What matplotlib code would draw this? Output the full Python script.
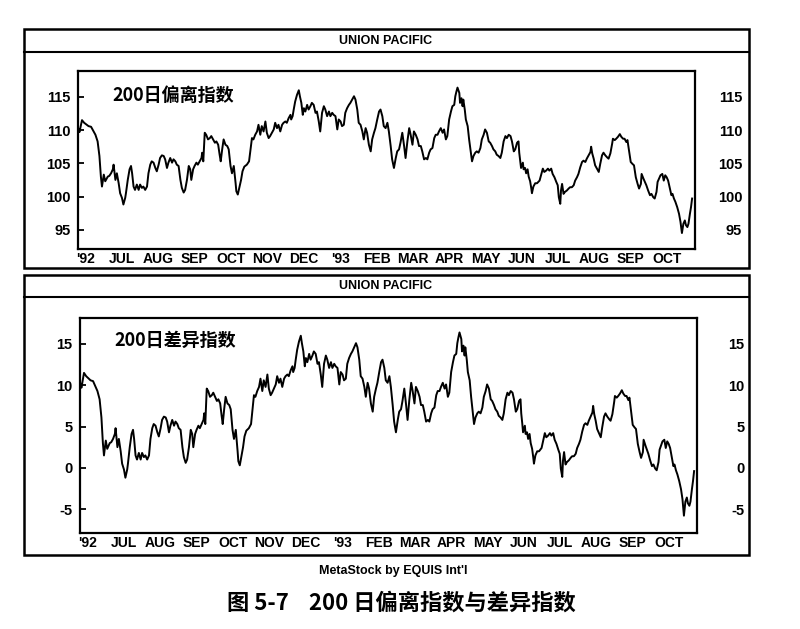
import matplotlib
matplotlib.use("Agg")
import matplotlib.pyplot as plt
from matplotlib.patches import Rectangle
from matplotlib.lines import Line2D

# --- data (x = months since June 1992) ---
month_labels = ["'92", "JUL", "AUG", "SEP", "OCT", "NOV", "DEC", "'93", "FEB",
                "MAR", "APR", "MAY", "JUN", "JUL", "AUG", "SEP", "OCT"]
month_ticks = list(range(17))

ratio_ticks = [95, 100, 105, 110, 115]
diff_ticks = [-5, 0, 5, 10, 15]

months = [
    -0.21, -0.18, -0.11, -0.05, 0.02, 0.07, 0.14, 0.20, 0.26, 0.32,
    0.37, 0.41, 0.44, 0.49, 0.53, 0.60, 0.64, 0.69, 0.74, 0.76,
    0.81, 0.85, 0.90, 0.94, 0.99, 1.03, 1.08, 1.10, 1.15, 1.20,
    1.24, 1.27, 1.31, 1.35, 1.40, 1.45, 1.49, 1.54, 1.58, 1.63,
    1.68, 1.72, 1.77, 1.81, 1.86, 1.91, 1.95, 2.00, 2.04, 2.09,
    2.14, 2.18, 2.23, 2.27, 2.32, 2.37, 2.41, 2.46, 2.50, 2.55,
    2.60, 2.64, 2.69, 2.73, 2.78, 2.83, 2.87, 2.90, 2.95, 2.99,
    3.04, 3.08, 3.13, 3.18, 3.20, 3.23, 3.27, 3.31, 3.36, 3.41,
    3.45, 3.50, 3.55, 3.59, 3.64, 3.68, 3.71, 3.75, 3.79, 3.84,
    3.89, 3.93, 3.98, 4.02, 4.07, 4.12, 4.14,
    4.18, 4.23, 4.27, 4.31, 4.36, 4.43, 4.49, 4.53, 4.57, 4.61,
    4.66, 4.71, 4.75, 4.80, 4.84, 4.89, 4.94, 4.98, 5.03, 5.07,
    5.12, 5.17, 5.21, 5.26, 5.30, 5.35, 5.40, 5.44, 5.49, 5.53,
    5.58, 5.63, 5.65, 5.69, 5.72, 5.76, 5.81, 5.86, 5.89, 5.93,
    5.97, 6.00, 6.04, 6.09, 6.13, 6.18, 6.22, 6.27, 6.32, 6.36,
    6.41, 6.45, 6.50, 6.55, 6.59, 6.64, 6.69, 6.73, 6.78, 6.82,
    6.87, 6.92, 6.96, 7.01, 7.05, 7.10, 7.14, 7.19, 7.24, 7.28,
    7.33, 7.38, 7.42, 7.47, 7.51, 7.56, 7.61, 7.65, 7.70, 7.74,
    7.79, 7.84, 7.88, 7.93, 7.97, 8.02, 8.07, 8.11, 8.16, 8.20,
    8.25, 8.30,
    8.34, 8.39, 8.43, 8.48, 8.53, 8.57, 8.62, 8.66, 8.71, 8.76,
    8.80, 8.85, 8.90, 8.94, 8.99, 9.03, 9.08, 9.13, 9.17, 9.22,
    9.26, 9.31, 9.36, 9.40, 9.45, 9.49, 9.54, 9.59, 9.63, 9.68,
    9.72, 9.77, 9.82, 9.86, 9.91, 9.95, 10.00, 10.05, 10.09, 10.14,
    10.17, 10.20, 10.23, 10.28, 10.30, 10.34, 10.37, 10.39, 10.43, 10.46,
    10.51, 10.55, 10.60, 10.63, 10.67, 10.72, 10.76, 10.81, 10.86, 10.90,
    10.95, 10.99, 11.04, 11.09, 11.13, 11.18, 11.22, 11.27, 11.31, 11.36,
    11.41, 11.45, 11.50, 11.55, 11.59, 11.64, 11.69, 11.73, 11.78, 11.82,
    11.87, 11.91, 11.93, 11.96, 11.98, 12.03, 12.05, 12.09, 12.12, 12.16,
    12.19, 12.23, 12.26, 12.28, 12.32, 12.37, 12.42,
    12.49, 12.53, 12.58, 12.62, 12.67, 12.72, 12.76, 12.81, 12.85, 12.90,
    12.95, 12.99, 13.02, 13.06, 13.08, 13.11, 13.15, 13.19, 13.24, 13.29,
    13.33, 13.38, 13.43, 13.47, 13.52, 13.56, 13.61, 13.66, 13.70, 13.75,
    13.79, 13.84, 13.89, 13.91, 13.94, 13.98, 14.02, 14.07, 14.12, 14.16,
    14.21, 14.25, 14.30, 14.35, 14.39, 14.44, 14.49, 14.51, 14.56, 14.60,
    14.65, 14.70, 14.74, 14.79, 14.83, 14.88, 14.91, 14.95, 15.00, 15.05,
    15.09, 15.14, 15.19, 15.23, 15.28, 15.30, 15.35, 15.39, 15.43, 15.48,
    15.53, 15.57, 15.62, 15.66, 15.71, 15.74, 15.78, 15.82, 15.87, 15.91,
    15.95, 15.99, 16.03, 16.08, 16.12, 16.15, 16.19, 16.23, 16.28, 16.33,
    16.37, 16.41, 16.45, 16.49, 16.52, 16.56, 16.59, 16.63, 16.66, 16.69,
]

# 200-day ratio index (price / 200-day MA * 100)
ratio_index = [
    110.2, 109.7, 111.5, 111.1, 110.8, 110.6, 110.5, 109.9, 109.3, 108.3,
    106.1, 103.0, 101.5, 103.3, 102.3, 103.0, 103.1, 103.5, 104.1, 104.8,
    102.5, 103.5, 102.0, 100.5, 99.8, 98.8, 99.8, 100.5, 102.5, 104.1,
    104.6, 103.5, 101.5, 101.0, 101.8, 101.0, 101.8, 101.3, 101.5, 101.0,
    101.5, 103.5, 104.8, 105.3, 105.1, 104.3, 103.8, 104.8, 105.8, 106.2,
    106.1, 105.6, 104.3, 105.1, 105.8, 105.1, 105.6, 105.3, 104.8, 104.6,
    102.5, 101.3, 100.6, 101.0, 102.5, 104.6, 104.1, 102.5, 104.1, 104.6,
    105.1, 104.8, 105.3, 105.8, 106.6, 105.3, 109.6, 109.3, 108.6, 108.8,
    109.1, 108.6, 108.1, 108.3, 107.8, 106.3, 105.3, 107.1, 108.6, 107.8,
    107.6, 107.1, 104.6, 103.5, 104.6, 102.0, 100.8,
    100.3, 101.5, 102.5, 103.8, 104.5, 104.8, 105.3, 107.1, 108.8, 108.6,
    109.3, 109.8, 110.8, 109.3, 110.6, 109.8, 111.3, 109.6, 108.8, 109.1,
    109.6, 110.1, 111.1, 110.3, 110.8, 109.8, 110.8, 111.1, 111.3, 111.1,
    111.8, 112.3, 111.6, 112.1, 113.1, 114.3, 115.3, 116.0, 115.1, 114.1,
    112.3, 113.3, 112.8, 113.8, 113.1, 113.6, 114.1, 113.8, 112.6, 112.8,
    111.3, 109.8, 112.6, 113.6, 113.1, 112.1, 112.8, 112.1, 112.6, 112.3,
    112.1, 110.1, 111.6, 111.3, 110.6, 110.8, 112.6, 113.3, 113.8, 114.1,
    114.6, 115.1, 114.6, 113.1, 111.1, 110.8, 109.8, 108.6, 110.3, 109.6,
    107.8, 106.8, 108.6, 109.6, 110.3, 111.6, 112.8, 113.1, 112.1, 110.6,
    110.3, 111.1,
    109.8, 107.6, 105.6, 104.3, 105.8, 106.8, 107.1, 108.1, 109.6, 107.6,
    105.8, 108.3, 110.3, 109.3, 107.8, 109.8, 109.3, 108.6, 107.6, 107.6,
    106.8, 105.6, 105.8, 105.6, 106.6, 107.1, 107.3, 108.8, 109.3, 109.3,
    109.8, 110.3, 109.6, 110.1, 108.6, 109.1, 111.6, 112.8, 113.6, 113.8,
    115.1, 115.8, 116.4, 115.6, 114.1, 114.8, 113.6, 114.6, 113.1, 111.6,
    110.6, 108.6, 106.6, 105.3, 106.1, 106.6, 106.8, 106.6, 107.3, 108.6,
    109.3, 110.1, 109.6, 108.3, 108.1, 107.6, 107.1, 106.8, 106.3, 106.1,
    105.8, 106.6, 108.3, 109.1, 108.8, 109.3, 109.1, 108.3, 106.8, 107.1,
    108.1, 108.3, 106.6, 105.3, 104.3, 105.1, 104.1, 104.3, 103.5, 104.1,
    103.0, 102.3, 101.3, 100.5, 101.5, 102.0, 102.0,
    102.4, 103.2, 104.2, 103.7, 103.9, 104.2, 103.9, 104.2, 103.4, 102.9,
    102.2, 101.7, 99.9, 98.9, 100.9, 101.9, 100.4, 100.7, 100.9, 101.2,
    101.4, 101.4, 101.7, 102.4, 102.9, 103.4, 104.4, 105.2, 105.4, 105.2,
    105.7, 106.2, 106.7, 107.5, 106.5, 105.7, 104.7, 104.2, 103.7, 104.9,
    106.2, 106.6, 106.2, 105.9, 105.7, 106.5, 108.0, 108.7, 108.5, 108.7,
    109.0, 109.4, 109.0, 108.7, 108.7, 108.2, 108.5, 107.0, 105.2, 104.9,
    104.7, 102.9, 101.9, 101.2, 101.9, 103.4, 102.7, 102.2, 101.7, 100.9,
    100.2, 100.4, 99.9, 99.7, 100.7, 102.2, 102.7, 103.2, 103.4, 102.4,
    103.2, 102.9, 102.4, 101.2, 100.2, 100.4, 99.7, 99.2, 98.4, 97.4,
    96.2, 94.5, 95.9, 96.4, 95.7, 95.4, 95.9, 97.4, 98.4, 99.7,
]

# 200-day difference index (percent above / below the 200-day MA)
diff_index = [
    10.2, 9.7, 11.5, 11.1, 10.8, 10.6, 10.5, 9.9, 9.3, 8.3,
    6.1, 3.0, 1.5, 3.3, 2.3, 3.0, 3.1, 3.5, 4.1, 4.8,
    2.5, 3.5, 2.0, 0.5, -0.2, -1.2, -0.2, 0.5, 2.5, 4.1,
    4.6, 3.5, 1.5, 1.0, 1.8, 1.0, 1.8, 1.3, 1.5, 1.0,
    1.5, 3.5, 4.8, 5.3, 5.1, 4.3, 3.8, 4.8, 5.8, 6.2,
    6.1, 5.6, 4.3, 5.1, 5.8, 5.1, 5.6, 5.3, 4.8, 4.6,
    2.5, 1.3, 0.6, 1.0, 2.5, 4.6, 4.1, 2.5, 4.1, 4.6,
    5.1, 4.8, 5.3, 5.8, 6.6, 5.3, 9.6, 9.3, 8.6, 8.8,
    9.1, 8.6, 8.1, 8.3, 7.8, 6.3, 5.3, 7.1, 8.6, 7.8,
    7.6, 7.1, 4.6, 3.5, 4.6, 2.0, 0.8,
    0.3, 1.5, 2.5, 3.8, 4.5, 4.8, 5.3, 7.1, 8.8, 8.6,
    9.3, 9.8, 10.8, 9.3, 10.6, 9.8, 11.3, 9.6, 8.8, 9.1,
    9.6, 10.1, 11.1, 10.3, 10.8, 9.8, 10.8, 11.1, 11.3, 11.1,
    11.8, 12.3, 11.6, 12.1, 13.1, 14.3, 15.3, 16.0, 15.1, 14.1,
    12.3, 13.3, 12.8, 13.8, 13.1, 13.6, 14.1, 13.8, 12.6, 12.8,
    11.3, 9.8, 12.6, 13.6, 13.1, 12.1, 12.8, 12.1, 12.6, 12.3,
    12.1, 10.1, 11.6, 11.3, 10.6, 10.8, 12.6, 13.3, 13.8, 14.1,
    14.6, 15.1, 14.6, 13.1, 11.1, 10.8, 9.8, 8.6, 10.3, 9.6,
    7.8, 6.8, 8.6, 9.6, 10.3, 11.6, 12.8, 13.1, 12.1, 10.6,
    10.3, 11.1,
    9.8, 7.6, 5.6, 4.3, 5.8, 6.8, 7.1, 8.1, 9.6, 7.6,
    5.8, 8.3, 10.3, 9.3, 7.8, 9.8, 9.3, 8.6, 7.6, 7.6,
    6.8, 5.6, 5.8, 5.6, 6.6, 7.1, 7.3, 8.8, 9.3, 9.3,
    9.8, 10.3, 9.6, 10.1, 8.6, 9.1, 11.6, 12.8, 13.6, 13.8,
    15.1, 15.8, 16.4, 15.6, 14.1, 14.8, 13.6, 14.6, 13.1, 11.6,
    10.6, 8.6, 6.6, 5.3, 6.1, 6.6, 6.8, 6.6, 7.3, 8.6,
    9.3, 10.1, 9.6, 8.3, 8.1, 7.6, 7.1, 6.8, 6.3, 6.1,
    5.8, 6.6, 8.3, 9.1, 8.8, 9.3, 9.1, 8.3, 6.8, 7.1,
    8.1, 8.3, 6.6, 5.3, 4.3, 5.1, 4.1, 4.3, 3.5, 4.1,
    3.0, 2.3, 1.3, 0.5, 1.5, 2.0, 2.0,
    2.4, 3.2, 4.2, 3.7, 3.9, 4.2, 3.9, 4.2, 3.4, 2.9,
    2.2, 1.7, -0.1, -1.1, 0.9, 1.9, 0.4, 0.7, 0.9, 1.2,
    1.4, 1.4, 1.7, 2.4, 2.9, 3.4, 4.4, 5.2, 5.4, 5.2,
    5.7, 6.2, 6.7, 7.5, 6.5, 5.7, 4.7, 4.2, 3.7, 4.9,
    6.2, 6.6, 6.2, 5.9, 5.7, 6.5, 8.0, 8.7, 8.5, 8.7,
    9.0, 9.4, 9.0, 8.7, 8.7, 8.2, 8.5, 7.0, 5.2, 4.9,
    4.7, 2.9, 1.9, 1.2, 1.9, 3.4, 2.7, 2.2, 1.7, 0.9,
    0.2, 0.4, -0.1, -0.3, 0.7, 2.2, 2.7, 3.2, 3.4, 2.4,
    3.2, 2.9, 2.4, 1.2, 0.2, 0.4, -0.3, -0.8, -1.6, -2.6,
    -3.8, -5.8, -4.1, -3.6, -4.3, -4.6, -4.1, -2.6, -1.6, -0.4,
]

W, H = 800, 629
TICK_FONT = ["Liberation Sans", "DejaVu Sans"]
CJK_FONT = ["Noto Sans CJK SC", "DejaVu Sans"]
SANS_FONT = ["Liberation Sans", "DejaVu Sans"]

fig = plt.figure(figsize=(W / 100, H / 100), dpi=100)
fig.patch.set_facecolor("white")


def fx(x):
    return x / W


def fy(y):
    return 1 - y / H


def draw_frame(top, bottom, bar):
    # outer box + title strip, like the MetaStock window
    fig.add_artist(Rectangle((fx(24), fy(bottom)), fx(749) - fx(24), fy(top) - fy(bottom),
                             transform=fig.transFigure, fill=False, lw=1.8, ec="black"))
    fig.add_artist(Line2D([fx(24), fx(749)], [fy(bar), fy(bar)],
                          transform=fig.transFigure, lw=1.5, color="black"))
    fig.text(fx(386), fy((top + bar) / 2), "UNION PACIFIC", ha="center", va="center",
             fontsize=9, fontweight="bold", family=SANS_FONT)


def draw_chart(left, top, right, bottom, values, ylim, yticks, label, label_y):
    ax = fig.add_axes([fx(left), fy(bottom), (right - left) / W, (bottom - top) / H])
    ax.plot(months, values, color="black", lw=1.4)
    ax.set_xlim(-0.22, 16.77)
    ax.set_ylim(*ylim)
    ax.set_xticks(month_ticks)
    ax.set_xticklabels(month_labels)
    ax.set_yticks(yticks)
    ax.set_yticklabels([str(t) for t in yticks])
    ax.tick_params(axis="x", length=0, pad=2.5, labelsize=10)
    ax.tick_params(axis="y", direction="in", length=4, width=1.3,
                   left=True, right=True, pad=5.5, labelsize=10.5)
    for lab in ax.get_xticklabels() + ax.get_yticklabels():
        lab.set_family(TICK_FONT)
        lab.set_fontweight("bold")
    for s in ax.spines.values():
        s.set_linewidth(1.6)

    # right-hand scale, right-aligned like the original
    axr = ax.twinx()
    axr.set_ylim(*ylim)
    axr.set_yticks(yticks)
    axr.set_yticklabels([str(t) for t in yticks])
    axr.tick_params(axis="y", length=0, pad=34, labelsize=10.5)
    for lab in axr.get_yticklabels():
        lab.set_ha("right")
        lab.set_family(TICK_FONT)
        lab.set_fontweight("bold")
    for s in axr.spines.values():
        s.set_visible(False)

    ax.text(0.055, label_y, label, transform=ax.transAxes, ha="left", va="center",
            fontsize=13, fontweight="bold", family=CJK_FONT)
    return ax


draw_frame(29, 268, 52)
draw_chart(78, 71, 695, 249, ratio_index, (92.1, 118.9), ratio_ticks, "200日偏离指数", 0.86)

draw_frame(275, 555, 297)
draw_chart(80, 318, 697, 533, diff_index, (-7.9, 18.15), diff_ticks, "200日差异指数", 0.898)

fig.text(fx(393), fy(571), "MetaStock by EQUIS Int'l", ha="center", va="center",
         fontsize=9, fontweight="bold", family=SANS_FONT)
fig.text(fx(401), fy(603), "图 5-7    200 日偏离指数与差异指数", ha="center", va="center",
         fontsize=16, fontweight="bold", family=CJK_FONT)

fig.savefig("out.png", dpi=100)
